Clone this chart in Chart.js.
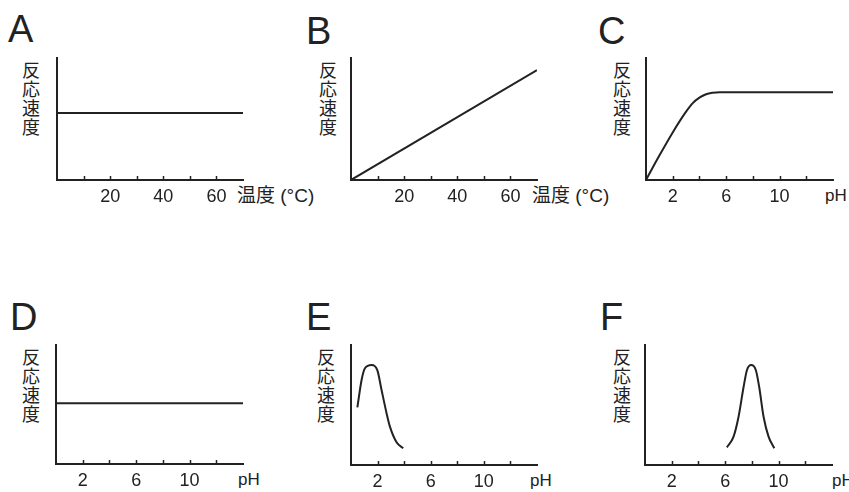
<!DOCTYPE html>
<html>
<head>
<meta charset="utf-8">
<script src="https://cdn.jsdelivr.net/npm/chart.js@4"></script>
<style>
  body { margin: 0; background: #fff; }
  #wrap { position: relative; width: 849px; height: 492px; overflow: hidden; }
  canvas { position: absolute; }
  .letter { position: absolute; font-family: "Liberation Sans", Arial, sans-serif; font-size: 38px; line-height: 38px; color: #222; }
  .ylab { position: absolute; width: 22px; text-align: center; font-family: "Noto Sans CJK JP", sans-serif; font-size: 18px; line-height: 19px; color: #222; }
  .xlab { position: absolute; font-family: "Liberation Sans", "Noto Sans CJK JP", sans-serif; font-size: 19px; line-height: 20px; color: #222; white-space: nowrap; }
  .xlab.ph { font-size: 17px; }
</style>
</head>
<body>
<div id="wrap"></div>
<script>
// 温度グラフ (A, B)
const tempTicks = [10, 20, 30, 40, 50, 60]
const tempLabels = [20, 40, 60]
const tempA = [0, 70]
const rateA = [0.55, 0.55]
const tempB = [0, 70]
const rateB = [0, 0.9]

// pH グラフ (C - F)
const phTicks = [2, 4, 6, 8, 10, 12]
const phLabels = [2, 6, 10]
const phC = [0, 1, 2, 3, 3.5, 4, 4.5, 5, 5.5, 6, 10, 14]
const rateC = [0, 0.2, 0.39, 0.56, 0.63, 0.675, 0.703, 0.715, 0.72, 0.72, 0.72, 0.72]
const phD = [0, 14]
const rateD = [0.51, 0.51]
const phE = [0.48, 0.8, 1.05, 1.55, 1.98, 2.3, 2.68, 2.93, 3.43, 3.93]
const rateE = [0.48, 0.71, 0.806, 0.833, 0.79, 0.625, 0.43, 0.32, 0.19, 0.14]
const phF = [6.13, 6.63, 7.0, 7.38, 7.63, 7.95, 8.3, 8.55, 8.88, 9.25, 9.68]
const rateF = [0.147, 0.236, 0.4, 0.65, 0.79, 0.833, 0.79, 0.65, 0.4, 0.236, 0.14]

const ink = '#222'

const tickMarks = {
    id: 'tickMarks',
    afterDraw(chart, args, opts) {
        const s = chart.scales.x
        const ctx = chart.ctx
        const bottom = chart.chartArea.bottom
        ctx.save()
        ctx.strokeStyle = ink
        ctx.lineWidth = 1.5
        ctx.beginPath()
        opts.values.forEach(v => {
            const px = Math.round(s.getPixelForValue(v)) + 0.5
            ctx.moveTo(px, bottom)
            ctx.lineTo(px, bottom - 4)
        })
        ctx.stroke()
        ctx.restore()
    }
}

const panels = [
    { letter: 'A', xs: tempA, ys: rateA, xmax: 70, ticks: tempTicks, labels: tempLabels, x0: 57, x1: 243, top: 58, bottom: 180, lx: 8, ly: 10, yl: 31, xt: '温度 (°C)', xtx: 237 },
    { letter: 'B', xs: tempB, ys: rateB, xmax: 70, ticks: tempTicks, labels: tempLabels, x0: 351, x1: 537, top: 58, bottom: 180, lx: 306, ly: 12, yl: 328, xt: '温度 (°C)', xtx: 532 },
    { letter: 'C', xs: phC, ys: rateC, xmax: 14, ticks: phTicks, labels: phLabels, x0: 646, x1: 833, top: 58, bottom: 180, lx: 598, ly: 12, yl: 622, xt: 'pH', xtx: 825, smooth: true },
    { letter: 'D', xs: phD, ys: rateD, xmax: 14, ticks: phTicks, labels: phLabels, x0: 56, x1: 243, top: 345, bottom: 464, lx: 10, ly: 298, yl: 31, xt: 'pH', xtx: 238 },
    { letter: 'E', xs: phE, ys: rateE, xmax: 14, ticks: phTicks, labels: phLabels, x0: 351, x1: 537, top: 345, bottom: 465, lx: 306, ly: 298, yl: 326, xt: 'pH', xtx: 530, smooth: true },
    { letter: 'F', xs: phF, ys: rateF, xmax: 14, ticks: phTicks, labels: phLabels, x0: 645, x1: 832, top: 345, bottom: 465, lx: 600, ly: 298, yl: 622, xt: 'pH', xtx: 832, smooth: true }
]

const wrap = document.getElementById('wrap')

panels.forEach(p => {
    const letter = document.createElement('div')
    letter.className = 'letter'
    letter.style.left = p.lx + 'px'
    letter.style.top = p.ly + 'px'
    letter.textContent = p.letter
    wrap.appendChild(letter)

    const ylab = document.createElement('div')
    ylab.className = 'ylab'
    ylab.style.left = (p.yl - 11) + 'px'
    ylab.style.top = (p.top + 2) + 'px'
    ylab.innerHTML = '反<br>応<br>速<br>度'
    wrap.appendChild(ylab)

    const xlab = document.createElement('div')
    xlab.className = p.xt === 'pH' ? 'xlab ph' : 'xlab'
    xlab.style.left = p.xtx + 'px'
    xlab.style.top = (p.bottom + 6) + 'px'
    xlab.textContent = p.xt
    wrap.appendChild(xlab)

    const cv = document.createElement('canvas')
    const w = p.x1 - p.x0 + 20
    const h = p.bottom - p.top + 40
    cv.width = w
    cv.height = h
    cv.style.left = (p.x0 - 10) + 'px'
    cv.style.top = (p.top - 10) + 'px'
    cv.style.width = w + 'px'
    cv.style.height = h + 'px'
    wrap.appendChild(cv)

    new Chart(cv.getContext('2d'), {
        type: 'line',
        data: {
            datasets: [{
                data: p.xs.map((x, i) => ({ x: x, y: p.ys[i] })),
                borderColor: ink,
                borderWidth: 2,
                pointRadius: 0,
                fill: false,
                cubicInterpolationMode: p.smooth ? 'monotone' : 'default',
                tension: 0
            }]
        },
        options: {
            responsive: false,
            animation: false,
            devicePixelRatio: 1,
            layout: { padding: { left: 10, right: 10, top: 10, bottom: 0 } },
            plugins: {
                legend: { display: false },
                tooltip: { enabled: false },
                tickMarks: { values: p.ticks }
            },
            scales: {
                x: {
                    type: 'linear',
                    min: 0,
                    max: p.xmax,
                    afterFit: s => { s.height = 30 },
                    grid: { display: false, drawTicks: false },
                    border: { display: true, color: ink, width: 2 },
                    ticks: {
                        stepSize: p.xmax === 70 ? 10 : 2,
                        autoSkip: false,
                        maxRotation: 0,
                        padding: 6,
                        color: ink,
                        font: { family: '"Liberation Sans", Arial, sans-serif', size: 18 },
                        callback: v => p.labels.includes(v) ? String(v) : ''
                    }
                },
                y: {
                    min: 0,
                    max: 1,
                    afterFit: s => { s.width = 0 },
                    grid: { display: false, drawTicks: false },
                    border: { display: true, color: ink, width: 2 },
                    ticks: { display: false }
                }
            }
        },
        plugins: [tickMarks]
    })
})
</script>
</body>
</html>
